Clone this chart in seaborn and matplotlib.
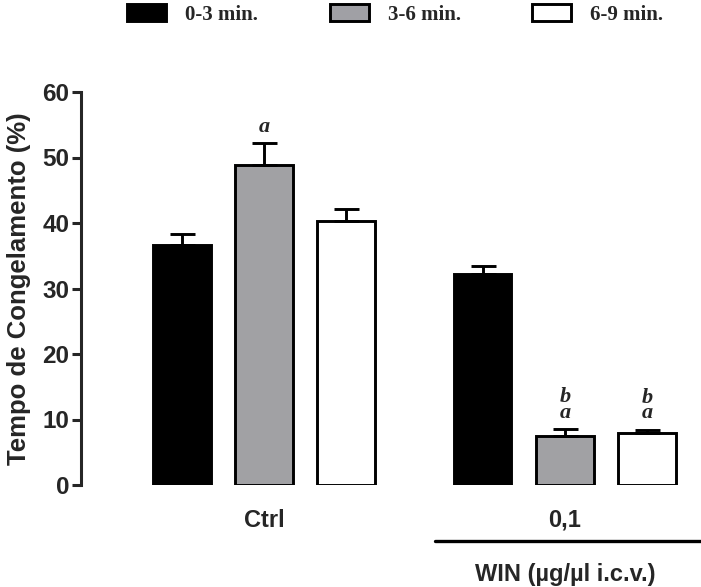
import numpy as np
import pandas as pd
import matplotlib
matplotlib.use("Agg")
import matplotlib.pyplot as plt
import seaborn as sns
from matplotlib.patches import Patch

groups = ["Ctrl", "0,1"]
periods = ["0-3 min.", "3-6 min.", "6-9 min."]
ctrl_mean = [36.6, 48.9, 40.3]
ctrl_sem = [1.7, 3.3, 1.8]
win_mean = [32.2, 7.5, 7.9]
win_sem = [1.2, 1.0, 0.5]
ctrl_marks = ["", "a", ""]
win_marks = ["", "b\na", "b\na"]
colors = ["#000000", "#a0a0a5", "#ffffff"]

df = pd.DataFrame({
    "grupo": [groups[0]] * 3 + [groups[1]] * 3,
    "periodo": periods * 2,
    "media": ctrl_mean + win_mean,
    "sem": ctrl_sem + win_sem,
    "marca": ctrl_marks + win_marks,
})

sns.set_style("ticks")
plt.rcParams["font.family"] = ["Liberation Sans", "DejaVu Sans"]

fig = plt.figure(figsize=(7.01, 5.87), dpi=100)
ax = fig.add_axes([81 / 701, 1 - 485 / 587, 1 - 81 / 701, 393 / 587])

sns.barplot(data=df, x="grupo", y="media", hue="periodo", order=groups,
            hue_order=periods, palette=colors, width=0.82, gap=0.3,
            edgecolor="black", linewidth=2.1, legend=False, ax=ax)

# error bars (upper only) and significance letters
bar_sets = list(ax.containers)
for i, bars in enumerate(bar_sets):
    sub = df[df["periodo"] == periods[i]].set_index("grupo").loc[groups]
    xs = [b.get_x() + b.get_width() / 2 for b in bars]
    ys = sub["media"].values
    es = sub["sem"].values
    ax.errorbar(xs, ys, yerr=[np.zeros_like(es), es], fmt="none",
                ecolor="black", elinewidth=2.1, capsize=9, capthick=2.1,
                zorder=1)
    for x, y, e, m in zip(xs, ys, es, sub["marca"].values):
        if m:
            ax.text(x, y + e + 1.0, m, ha="center", va="bottom",
                    family="Liberation Serif", fontsize=16,
                    fontweight="bold", style="italic", linespacing=0.72)

ax.set_ylim(0, 60)
ax.set_xlim(-0.608, 1.452)
ax.set_yticks(range(0, 61, 10))
ax.set_ylabel("Tempo de Congelamento (%)", fontsize=18.5, fontweight="bold",
              labelpad=8)
ax.set_xlabel("")
ax.tick_params(axis="y", length=6.5, width=2.2, labelsize=17.5, pad=2)
ax.tick_params(axis="x", length=0, labelsize=17, pad=17)
for lab in ax.get_xticklabels() + ax.get_yticklabels():
    lab.set_fontweight("bold")
sns.despine(ax=ax, bottom=True)
ax.spines["left"].set_linewidth(2.2)

# bracket under the WIN group
ax.plot([0.568, 1.46], [-0.1425, -0.1425], color="black", lw=2.4,
        transform=ax.get_xaxis_transform(), clip_on=False)
ax.text(1.0, -0.229, "WIN (\u00b5g/\u00b5l i.c.v.)", ha="center",
        va="center", fontsize=17, fontweight="bold",
        transform=ax.get_xaxis_transform())

handles = [Patch(facecolor=c, edgecolor="black", linewidth=2.1)
           for c in colors]
fig.legend(handles, periods, loc="upper left",
           bbox_to_anchor=(127 / 701, 1 - 4 / 587),
           ncol=3, frameon=False, borderpad=0, borderaxespad=0,
           handlelength=1.87, handleheight=0.91,
           handletextpad=0.91, columnspacing=3.45,
           prop={"family": "Liberation Serif", "weight": "bold", "size": 15})

fig.savefig("out.png", dpi=100)
